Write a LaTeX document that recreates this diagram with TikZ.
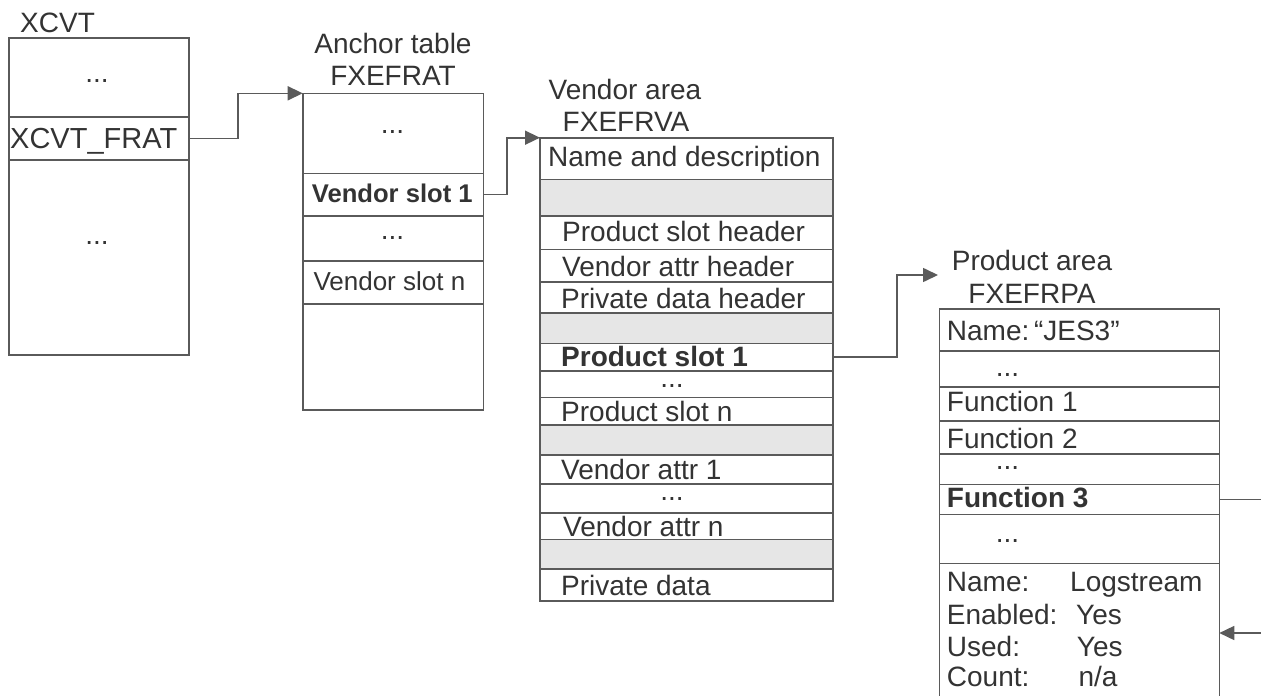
\documentclass[tikz,border=0pt]{standalone}
\usepackage{fontspec}
\setmainfont{Liberation Sans}
\usetikzlibrary{arrows.meta}
\definecolor{linec}{HTML}{5A5A5A}
\definecolor{textc}{HTML}{333333}
\definecolor{shade}{HTML}{E6E6E6}
\newcommand\cell[6][]{\node[cell,#1,minimum width={#4-#2},minimum height={#5-#3},anchor=north west] (#6) at (#2,#3) {};}
\begin{document}
\begin{tikzpicture}[x=1pt,y=-1pt,
  cell/.style={draw=linec,line width=1.6pt,inner sep=0pt,outer sep=0pt,fill=white},
  grey/.style={fill=shade},
  txt/.style={anchor=base west,inner sep=0pt,text=textc,font=\fontsize{28}{32}\selectfont},
  ctxt/.style={anchor=base,inner sep=0pt,text=textc,font=\fontsize{28}{32}\selectfont},
  dots/.style={anchor=base,inner sep=0pt,text=textc,font=\fontsize{28}{32}\selectfont,text height=4pt,text depth=0pt},
  btxt/.style={txt,font=\fontsize{28}{32}\selectfont\bfseries},
  small/.style={font=\fontsize{26}{30}\selectfont},
  conn/.style={draw=linec,line width=1.6pt,-{Triangle[length=15pt,width=14pt]}},
  plain/.style={draw=linec,line width=1.6pt}]
\useasboundingbox (0,0) rectangle (1261,696);
\clip (0,0) rectangle (1261,696);

% XCVT
\node[txt] (xlab) at (20,32) {XCVT};
\cell{9}{37.7}{189}{116.7}{x1}
\cell{9}{116.7}{189}{160}{xfrat}
\cell{9}{160}{189}{355}{x3}
\node[dots] (xd1) at (97,82) {...};
\node[txt,font=\fontsize{29}{32}\selectfont] (xft) at (10,148.3) {XCVT\_FRAT};
\node[dots] (xd2) at (97,244) {...};

% Anchor table
\node[ctxt] (alab1) at (393,53) {Anchor table};
\node[ctxt] (alab2) at (393,85) {FXEFRAT};
\cell{302.7}{93.3}{483.3}{173.3}{frat}
\cell{302.7}{173.3}{483.3}{215.7}{vs1}
\cell{302.7}{215.7}{483.3}{260.7}{a3}
\cell{302.7}{260.7}{483.3}{304}{vsn}
\cell{302.7}{304}{483.3}{410}{a5}
\node[dots] (ad1) at (392.5,133) {...};
\node[txt,font=\fontsize{25.6}{30}\selectfont\bfseries] (avs1) at (311.7,202.3) {Vendor slot 1};
\node[dots] (ad2) at (392.5,239) {...};
\node[txt,small] (avsn) at (313.3,290) {Vendor slot n};

% Vendor area
\node[ctxt] (vlab1) at (625,99.3) {Vendor area};
\node[ctxt] (vlab2) at (626,131.7) {FXEFRVA};
\cell{540}{137.7}{833}{179.3}{va}
\cell[grey]{540}{179.3}{833}{215.7}{v2}
\cell{540}{215.7}{833}{249.3}{v3}
\cell{540}{249.3}{833}{281.7}{v4}
\cell{540}{281.7}{833}{312.7}{v5}
\cell[grey]{540}{312.7}{833}{343.3}{v6}
\cell{540}{343.3}{833}{370.7}{ps1}
\cell{540}{370.7}{833}{397.3}{v8}
\cell{540}{397.3}{833}{425}{v9}
\cell[grey]{540}{425}{833}{455}{v10}
\cell{540}{455}{833}{484}{v11}
\cell{540}{484}{833}{512.7}{v12}
\cell{540}{512.7}{833}{539.3}{v13}
\cell[grey]{540}{539.3}{833}{569}{v14}
\cell{540}{569}{833}{601}{v15}
\node[txt] (vt1) at (548,166.7) {Name and description};
\node[txt] (vt3) at (562,241.7) {Product slot header};
\node[txt] (vt4) at (562,276.7) {Vendor attr header};
\node[txt] (vt5) at (561,308) {Private data header};
\node[btxt] (vt7) at (561,366.7) {Product slot 1};
\node[dots] (vd1) at (672,387) {...};
\node[txt] (vt9) at (561,421.7) {Product slot n};
\node[txt] (vt11) at (561,479.3) {Vendor attr 1};
\node[dots] (vd2) at (672,500) {...};
\node[txt] (vt13) at (563,536.7) {Vendor attr n};
\node[txt] (vt15) at (561,595) {Private data};

% Product area
\node[ctxt] (plab1) at (1032,270.7) {Product area};
\node[ctxt] (plab2) at (1032,303.3) {FXEFRPA};
\cell{939.3}{309}{1219.3}{351}{pa}
\cell{939.3}{351}{1219.3}{386.7}{p2}
\cell{939.3}{386.7}{1219.3}{420.7}{p3}
\cell{939.3}{420.7}{1219.3}{454}{p4}
\cell{939.3}{454}{1219.3}{484.5}{p5}
\cell{939.3}{484.5}{1219.3}{514.3}{f3}
\cell{939.3}{514.3}{1219.3}{563.3}{p7}
\cell{939.3}{563.3}{1219.3}{710}{pinfo}
\node[txt] (pt1) at (946.7,340) {Name:\,“JES3”};
\node[dots] (pd1) at (1007.5,376) {...};
\node[txt] (pt3) at (946.7,411) {Function 1};
\node[txt] (pt4) at (946.7,448.3) {Function 2};
\node[dots] (pd2) at (1007.5,469) {...};
\node[btxt] (pt6) at (946.7,507.3) {Function 3};
\node[dots] (pd3) at (1007.5,542.5) {...};
\node[txt] (pk1) at (946.7,591.7) {Name:};
\node[txt] (pv1) at (1070,591.7) {Logstream};
\node[txt] (pk2) at (946.7,624) {Enabled:};
\node[txt] (pv2) at (1076,624) {Yes};
\node[txt] (pk3) at (946.7,656) {Used:};
\node[txt] (pv3) at (1076.7,656) {Yes};
\node[txt] (pk4) at (946.7,686.7) {Count:};
\node[txt] (pv4) at (1078.3,686.7) {n/a};

% connectors
\coordinate (pin) at (938,275);
\coordinate (rout) at (1270,500);
\coordinate (rin) at (1270,633);
\draw[conn] (xfrat.east) -- ++(49,0) |- (frat.north west);
\draw[conn] (vs1.east) -- ++(23.4,0) |- (va.north west);
\draw[conn] (ps1.east) -- ++(64,0) |- (pin);
\draw[plain] (f3.east) -- (f3.east -| rout);
\draw[conn] (rin) -- (rin -| pinfo.east);
\end{tikzpicture}
\end{document}
